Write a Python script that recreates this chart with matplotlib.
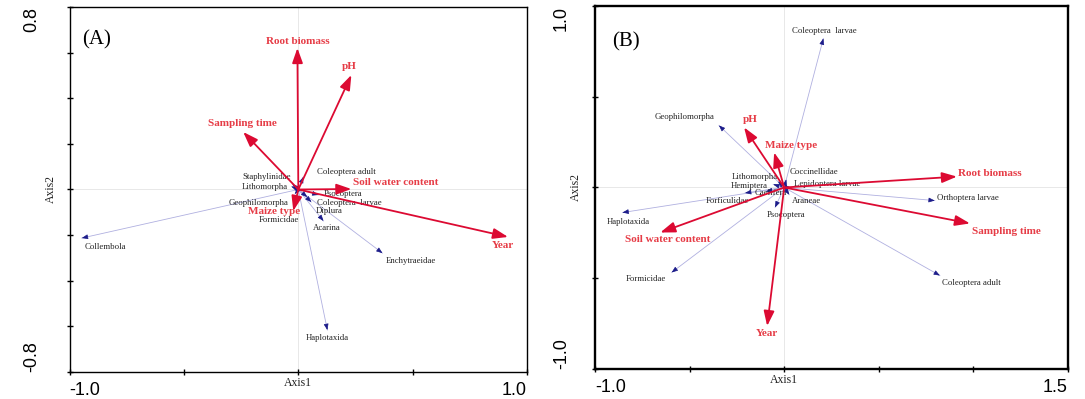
import numpy as np
import matplotlib
matplotlib.use("Agg")
import matplotlib.pyplot as plt

# ---- panel A data (biplot scores) ----
env_a = ["Root biomass", "pH", "Sampling time", "Soil water content", "Maize type", "Year"]
env_a_x = [-0.004, 0.232, -0.241, 0.232, -0.022, 0.917]
env_a_y = [0.620, 0.502, 0.252, 0.002, -0.094, -0.208]

sp_a = ["Collembola", "Haplotaxida", "Enchytraeidae", "Acarina", "Diplura", "Coleoptera  larvae",
        "Psocoptera", "Coleoptera adult", "Staphylinidae", "Lithomorpha", "Geophilomorpha", "Formicidae"]
sp_a_x = [-0.947, 0.127, 0.368, 0.110, 0.057, 0.039, 0.088, 0.022, -0.026, -0.030, -0.015, -0.005]
sp_a_y = [-0.213, -0.616, -0.279, -0.138, -0.055, -0.033, -0.024, 0.055, 0.024, 0.013, -0.020, -0.060]

# ---- panel B data ----
env_b = ["Root biomass", "Sampling time", "pH", "Maize type", "Soil water content", "Year"]
env_b_x = [0.913, 0.982, -0.212, -0.053, -0.655, -0.090]
env_b_y = [0.060, -0.198, 0.331, 0.193, -0.248, -0.763]

sp_b = ["Coleoptera  larvae", "Geophilomorpha", "Coccinellidae", "Lithomorpha", "Hemiptera",
        "Lepidoptera larvae", "Caelifera", "Forficulidae", "Araneae", "Psocoptera", "Haplotaxida",
        "Formicidae", "Coleoptera adult", "Orthoptera larvae"]
sp_b_x = [0.207, -0.345, 0.011, -0.032, -0.058, 0.037, -0.096, -0.207, 0.027, -0.048, -0.855, -0.595, 0.823, 0.796]
sp_b_y = [0.821, 0.342, 0.044, 0.033, 0.017, 0.000, -0.022, -0.030, -0.040, -0.110, -0.138, -0.468, -0.485, -0.072]

# label placement: (dx, dy) in pixels from the arrow tip, horizontal alignment
lab_env_a = [(0, 7, "center"), (-2, 8, "center"), (-1, 8, "center"), (2, 7, "left"),
             (-19, -1, "center"), (-5, -9, "center")]
lab_sp_a = [(3, -9, "left"), (0, -8, "center"), (28, -8, "center"), (3, -7, "center"),
            (4, -9, "left"), (10, -6, "left"), (5, 1, "left"), (14, 5, "left"),
            (-2, 7, "right"), (-4, 0, "right"), (-6, -9, "right"), (-18, -17, "center")]
lab_env_b = [(1, 3, "left"), (36, -8, "center"), (6, 8, "center"), (17, 7, "center"),
             (7, -7, "center"), (0, -8, "center")]
lab_sp_b = [(1, 7, "center"), (-34, 8, "center"), (3, 8, "left"), (0, 5, "right"),
            (-5, -2, "right"), (3, 3, "left"), (5, -2, "center"), (-18, -8, "center"),
            (3, -6, "left"), (11, -8, "center"), (6, -9, "center"), (-26, -7, "center"),
            (2, -7, "left"), (2, 3, "left")]

RED = "#dc0a32"
RED_TXT = "#e63c46"
LAV = "#b0b0e0"
NAVY = "#1c1c8a"
SERIF = "Liberation Serif"
SANS = "Liberation Sans"


def draw_env(ax, names, xs, ys, labs):
    for n, x, y, (dx, dy, ha) in zip(names, xs, ys, labs):
        ax.annotate("", xy=(x, y), xytext=(0, 0),
                    arrowprops=dict(arrowstyle="-|>,head_length=0.9,head_width=0.32",
                                    mutation_scale=10, lw=1.3, color=RED,
                                    shrinkA=0, shrinkB=0))
        ax.annotate(n, xy=(x, y), xytext=(dx, dy), textcoords="offset pixels",
                    ha=ha, va="center", fontsize=8, fontweight="bold",
                    color=RED_TXT, family=SERIF)


def draw_species(ax, names, xs, ys, labs):
    for n, x, y, (dx, dy, ha) in zip(names, xs, ys, labs):
        ax.plot([0, x], [0, y], color=LAV, lw=0.6, zorder=1)
        r = np.hypot(x, y)
        f = max(0.0, 1 - 0.02 / r)
        ax.annotate("", xy=(x, y), xytext=(x * f, y * f),
                    arrowprops=dict(arrowstyle="-|>,head_length=0.9,head_width=0.35",
                                    mutation_scale=4, lw=0.5, color=NAVY,
                                    shrinkA=0, shrinkB=0))
        ax.annotate(n, xy=(x, y), xytext=(dx, dy), textcoords="offset pixels",
                    ha=ha, va="center", fontsize=6.3, color="#222222", family=SERIF)


def style_axes(ax, xlim, ylim, xticks, yticks, lw, tag, tag_pos, ypad):
    ax.set_xlim(*xlim)
    ax.set_ylim(*ylim)
    ax.axhline(0, color="#e8e8e8", lw=0.7, zorder=0)
    ax.axvline(0, color="#e8e8e8", lw=0.7, zorder=0)
    for s in ax.spines.values():
        s.set_linewidth(lw)
    ax.set_xticks(xticks)
    ax.set_yticks(yticks)
    xl = ["" for _ in xticks]
    xl[0] = "%.1f" % xticks[0]
    xl[-1] = "%.1f" % xticks[-1]
    yl = ["" for _ in yticks]
    yl[0] = "%.1f" % yticks[0]
    yl[-1] = "%.1f" % yticks[-1]
    ax.set_xticklabels(xl, fontsize=13, family=SANS)
    ax.set_yticklabels(yl, fontsize=13, family=SANS, rotation=90)
    ax.tick_params(direction="inout", length=4, width=1, pad=5)
    ax.tick_params(axis="y", pad=ypad)
    xt = ax.get_xticklabels()
    xt[0].set_ha("left")
    xt[-1].set_ha("right")
    yt = ax.get_yticklabels()
    yt[0].set_va("bottom")
    yt[-1].set_va("top")
    ax.annotate("Axis1", xy=(0, 0), xycoords=("data", "axes fraction"), xytext=(0, -11),
                textcoords="offset pixels", ha="center", va="center", fontsize=8.5, family=SERIF,
                color="#222222")
    ax.annotate("Axis2", xy=(0, 0), xycoords=("axes fraction", "data"), xytext=(-19, 0),
                textcoords="offset pixels", ha="center", va="center", fontsize=8.5, family=SERIF,
                rotation=90, color="#222222")
    ax.text(tag_pos[0], tag_pos[1], tag, transform=ax.transAxes, fontsize=15, family=SERIF,
            ha="left", va="center")


fig = plt.figure(figsize=(10.85, 3.99), dpi=100)
ax_a = fig.add_axes([0.0642, 0.0677, 0.4215, 0.9148])
ax_b = fig.add_axes([0.5484, 0.0752, 0.4359, 0.9098])

style_axes(ax_a, (-1.0, 1.0), (-0.8, 0.8), [-1.0, -0.5, 0, 0.5, 1.0],
           [-0.8, -0.6, -0.4, -0.2, 0, 0.2, 0.4, 0.6, 0.8], 1.0, "(A)", (0.027, 0.91), 19)
draw_species(ax_a, sp_a, sp_a_x, sp_a_y, lab_sp_a)
draw_env(ax_a, env_a, env_a_x, env_a_y, lab_env_a)

style_axes(ax_b, (-1.0, 1.5), (-1.0, 1.0), [-1.0, -0.5, 0, 0.5, 1.0, 1.5],
           [-1.0, -0.5, 0, 0.5, 1.0], 1.7, "(B)", (0.036, 0.90), 16)
draw_species(ax_b, sp_b, sp_b_x, sp_b_y, lab_sp_b)
draw_env(ax_b, env_b, env_b_x, env_b_y, lab_env_b)

fig.savefig("out.png", dpi=100)
